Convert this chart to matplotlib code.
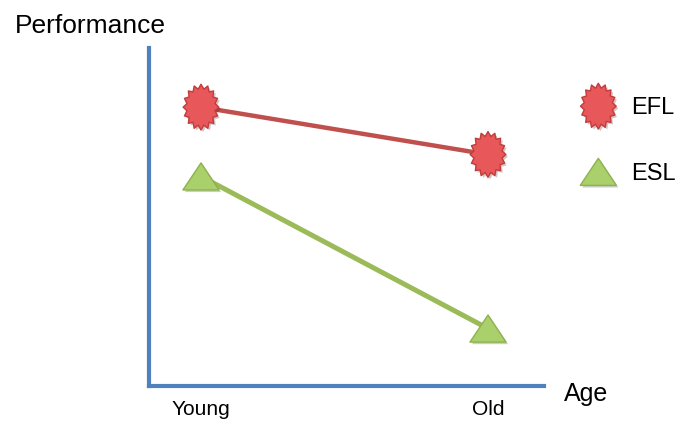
import numpy as np
import matplotlib
matplotlib.use("Agg")
import matplotlib.pyplot as plt
from matplotlib.path import Path
from matplotlib.lines import Line2D
import matplotlib.patheffects as pe

plt.rcParams['font.family'] = ['Liberation Sans', 'DejaVu Sans']

categories = ["Young", "Old"]
efl = [82.5, 68.5]
esl = [62.0, 17.0]
series_names = ["EFL", "ESL"]

# marker shapes
n_spikes = 16
ang = np.linspace(0, 2 * np.pi, 2 * n_spikes, endpoint=False) + np.pi / 2
rad = np.where(np.arange(2 * n_spikes) % 2 == 0, 1.0, 0.80)
star_verts = np.column_stack([0.78 * rad * np.cos(ang), rad * np.sin(ang)])
star_verts = np.vstack([star_verts, star_verts[:1]])
star = Path(star_verts, closed=True)
tri = Path([(0, 0.75), (-1, -0.75), (1, -0.75), (0, 0.75)], closed=True)

red_line = "#c0504d"
red_fill = "#e8575a"
red_edge = "#c23c3c"
green_line = "#9bbb59"
green_fill = "#a9d06a"
green_edge = "#8fb24f"
blue = "#4f81bd"

fig = plt.figure(figsize=(6.83, 4.23), dpi=100)
ax = fig.add_axes([149 / 683, 37 / 423, (544 - 149) / 683, (386 - 48) / 423])

x = np.arange(len(categories))
shadow = [pe.SimplePatchShadow(offset=(1.5, -1.5), alpha=0.25), pe.Normal()]
ax.plot(x, efl, color=red_line, lw=3.2, marker=star, markersize=33,
        markerfacecolor=red_fill, markeredgecolor=red_edge, markeredgewidth=1.0,
        path_effects=shadow, label=series_names[0])
ax.plot(x, esl, color=green_line, lw=3.6, marker=tri, markersize=26,
        markerfacecolor=green_fill, markeredgecolor=green_edge, markeredgewidth=1.0,
        path_effects=shadow, label=series_names[1])

ax.set_xlim(-52 / 287, 343 / 287)
ax.set_ylim(0, 100)
for s in ["top", "right"]:
    ax.spines[s].set_visible(False)
for s in ["left", "bottom"]:
    ax.spines[s].set_color(blue)
    ax.spines[s].set_linewidth(3.0)
ax.set_yticks([])
ax.set_xticks(x)
ax.set_xticklabels(categories, fontsize=15)
ax.tick_params(axis='x', length=0, pad=10)

ax.text(1.05, -0.025, "Age", transform=ax.transAxes, fontsize=18,
        ha="left", va="center")
fig.text(15 / 683, 1 - 26 / 423, "Performance", fontsize=19, ha="left", va="center")

handles = [
    Line2D([], [], ls="none", marker=star, markersize=33, markerfacecolor=red_fill,
           markeredgecolor=red_edge, markeredgewidth=1.0, path_effects=shadow),
    Line2D([], [], ls="none", marker=tri, markersize=26, markerfacecolor=green_fill,
           markeredgecolor=green_edge, markeredgewidth=1.0, path_effects=shadow),
]
fig.legend(handles, series_names, loc="upper left",
           bbox_to_anchor=(570 / 683, 1 - 88 / 423), frameon=False, fontsize=17,
           handlelength=1.6, handletextpad=0.6, labelspacing=1.85, borderaxespad=0)

fig.savefig("out.png", dpi=100)
